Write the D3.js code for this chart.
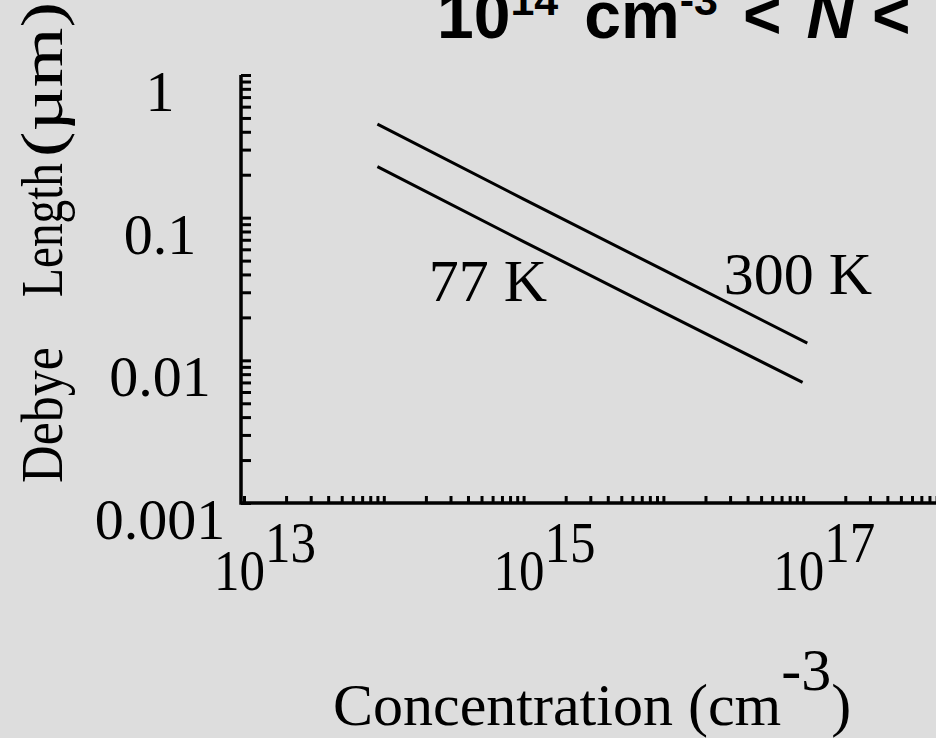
<!DOCTYPE html>
<html>
<head>
<meta charset="utf-8">
<script src="https://cdn.jsdelivr.net/npm/d3@7/dist/d3.min.js"></script>
<style>
  html, body { margin: 0; padding: 0; background: #dddddd; overflow: hidden; }
  svg { display: block; }
  .serif { font-family: "Liberation Serif", "Times New Roman", serif; fill: #000; }
  .sans { font-family: "Liberation Sans", Arial, sans-serif; font-weight: bold; fill: #000; }
</style>
</head>
<body>
<script>
// values (N in cm^-3, Debye length in um)
var concentration300 = [9e13, 1e15, 1e16, 1.07e17];
var debye300 = [0.453, 0.135, 0.043, 0.0132];
var concentration77 = [9e13, 1e15, 1e16, 9.9e16];
var debye77 = [0.228, 0.068, 0.0217, 0.0070];

var curveLabels = ['77 K', '300 K'];
var labelConcentration = [2.1e14, 2.7e16];
var labelDebye = [0.026, 0.0292];

var xTickExponents = [13, 15, 17];
var yTickValues = [1, 0.1, 0.01, 0.001];
var yTickLabels = ['1', '0.1', '0.01', '0.001'];

var width = 936, height = 738;

var x = d3.scaleLog().domain([1e13, 1e18]).range([244, 943]);
var y = d3.scaleLog().domain([0.001, 1]).range([503, 75]);

var svg = d3.select('body').append('svg')
  .attr('width', width)
  .attr('height', height);

svg.append('rect')
  .attr('width', width)
  .attr('height', height)
  .attr('fill', '#dddddd');

// minor + major log ticks
var xMinor = [], yMinor = [];
d3.range(13, 18).forEach(function(e) {
  d3.range(1, 10).forEach(function(m) { xMinor.push(m * Math.pow(10, e)); });
});
d3.range(-3, 0).forEach(function(e) {
  d3.range(1, 10).forEach(function(m) { yMinor.push(m * Math.pow(10, e)); });
});
yMinor.push(1);

var xAxis = svg.append('g')
  .attr('transform', 'translate(0,' + y(0.001) + ')')
  .call(d3.axisBottom(x).tickValues(xMinor).tickSize(-7).tickSizeOuter(0).tickFormat(''));
xAxis.select('.domain').remove();

var yAxis = svg.append('g')
  .attr('transform', 'translate(' + (x(1e13) - 3) + ',0)')
  .call(d3.axisLeft(y).tickValues(yMinor).tickSize(-10).tickSizeOuter(0).tickFormat(''));
yAxis.select('.domain').remove();

svg.selectAll('.tick line')
  .attr('stroke', '#000')
  .attr('stroke-width', 3);

// axis frame (left + bottom)
svg.append('path')
  .attr('d', 'M' + (x(1e13) - 3) + ',' + y(1) + 'V' + y(0.001) + 'H' + x(1e18))
  .attr('fill', 'none')
  .attr('stroke', '#000')
  .attr('stroke-width', 3.5);

// y tick labels
svg.selectAll('.ylab')
  .data(yTickValues)
  .enter().append('text')
  .attr('class', 'serif ylab')
  .attr('x', 160)
  .attr('y', function(d) { return y(d) + 36; })
  .attr('text-anchor', 'middle')
  .style('font-size', '58px')
  .text(function(d, i) { return yTickLabels[i]; });

// x tick labels 10^n
var xl = svg.selectAll('.xlab')
  .data(xTickExponents)
  .enter().append('text')
  .attr('class', 'serif xlab')
  .attr('x', function(d) { return x(Math.pow(10, d)) - 30; })
  .attr('y', 590)
  .attr('textLength', 102)
  .attr('lengthAdjust', 'spacingAndGlyphs')
  .style('font-size', '58px');
xl.append('tspan').text('10');
xl.append('tspan').attr('dy', -28).text(function(d) { return d; });

// curves
var line = d3.line()
  .x(function(d) { return x(d[0]); })
  .y(function(d) { return y(d[1]); });

[[concentration77, debye77], [concentration300, debye300]].forEach(function(s) {
  svg.append('path')
    .datum(d3.zip(s[0], s[1]))
    .attr('d', line)
    .attr('fill', 'none')
    .attr('stroke', '#000')
    .attr('stroke-width', 3);
});

svg.selectAll('.clab')
  .data(curveLabels)
  .enter().append('text')
  .attr('class', 'serif clab')
  .attr('x', function(d, i) { return x(labelConcentration[i]); })
  .attr('y', function(d, i) { return y(labelDebye[i]); })
  .style('font-size', '60px')
  .text(function(d) { return d; });

// axis titles
var ytitle = svg.append('g').attr('transform', 'rotate(-90)');
ytitle.append('text').attr('class', 'serif')
  .attr('x', -483).attr('y', 62)
  .attr('textLength', 136).attr('lengthAdjust', 'spacingAndGlyphs')
  .style('font-size', '59px').text('Debye');
ytitle.append('text').attr('class', 'serif')
  .attr('x', -297).attr('y', 62)
  .attr('textLength', 134).attr('lengthAdjust', 'spacingAndGlyphs')
  .style('font-size', '59px').text('Length');
ytitle.append('text').attr('class', 'serif')
  .attr('x', -157).attr('y', 62)
  .attr('textLength', 155).attr('lengthAdjust', 'spacingAndGlyphs')
  .style('font-size', '59px').text('(\u00b5m)');

var xtitle = svg.append('text').attr('class', 'serif')
  .attr('x', 333).attr('y', 725)
  .style('font-size', '60px');
xtitle.append('tspan').text('Concentration (cm');
xtitle.append('tspan').attr('dy', -35).text('-3');
xtitle.append('tspan').attr('dy', 35).text(')');

// title (cropped at the top/right, as in the source)
var title = svg.append('text').attr('class', 'sans')
  .attr('x', 437).attr('y', 38)
  .style('font-size', '66px');
title.append('tspan').text('10');
title.append('tspan').attr('dy', -23).style('font-size', '43px').text('14');
title.append('tspan').attr('dy', 23).attr('dx', 26).text('cm');
title.append('tspan').attr('dy', -23).style('font-size', '43px').text('-3');
title.append('tspan').attr('dy', 23).attr('dx', 25).text('<');
title.append('tspan').attr('dx', 25).style('font-style', 'italic').text('N');
title.append('tspan').attr('dx', 18).text('<');
title.append('tspan').attr('dx', 25).text('10');
title.append('tspan').attr('dy', -23).style('font-size', '43px').text('17');
title.append('tspan').attr('dy', 23).attr('dx', 26).text('cm');
title.append('tspan').attr('dy', -23).style('font-size', '43px').text('-3');
</script>
</body>
</html>
